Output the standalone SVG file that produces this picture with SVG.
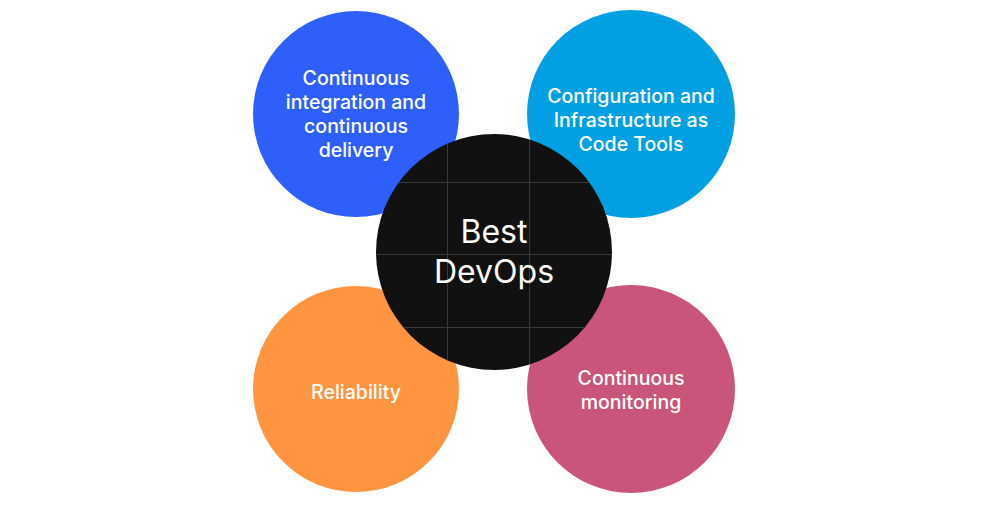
<svg xmlns="http://www.w3.org/2000/svg" width="988" height="513" viewBox="0 0 988 513">
<style>
.lbl{font-family:Inter,"Noto Sans","Liberation Sans",sans-serif;font-size:19.5px;font-weight:500;fill:#fff;text-anchor:middle}
.big{font-family:Inter,"Noto Sans","Liberation Sans",sans-serif;font-size:32px;fill:#fff;text-anchor:middle}
.grid{stroke:#3a3a3a;stroke-width:1;fill:none}
</style>
<defs>
<clipPath id="cc"><circle cx="494" cy="252" r="118"/></clipPath>
</defs>
<rect width="988" height="513" fill="#fff"/>
<g id="ci-cd">
<circle cx="356" cy="114" r="103" fill="#2F5FFB"/>
<text class="lbl" x="356" y="85">Continuous</text>
<text class="lbl" x="356" y="109">integration and</text>
<text class="lbl" x="356" y="133">continuous</text>
<text class="lbl" x="356" y="157">delivery</text>
</g>
<g id="iac">
<circle cx="631" cy="114" r="104" fill="#01A0E3"/>
<text class="lbl" x="631" y="103">Configuration and</text>
<text class="lbl" x="631" y="127">Infrastructure as</text>
<text class="lbl" x="631" y="151">Code Tools</text>
</g>
<g id="reliability">
<circle cx="356" cy="389" r="103" fill="#FF9540"/>
<text class="lbl" x="356" y="399">Reliability</text>
</g>
<g id="monitoring">
<circle cx="631" cy="389" r="104" fill="#C9557A"/>
<text class="lbl" x="631" y="385">Continuous</text>
<text class="lbl" x="631" y="409">monitoring</text>
</g>
<g id="center">
<circle cx="494" cy="252" r="118" fill="#111111"/>
<g clip-path="url(#cc)">
<path class="grid" d="M447.5 130V375M529.5 130V375M370 182.5H620M370 254.5H620M370 327.5H620"/>
</g>
<text class="big" x="494" y="243">Best</text>
<text class="big" x="494" y="283">DevOps</text>
</g>
<g id="connectors"/>
</svg>
